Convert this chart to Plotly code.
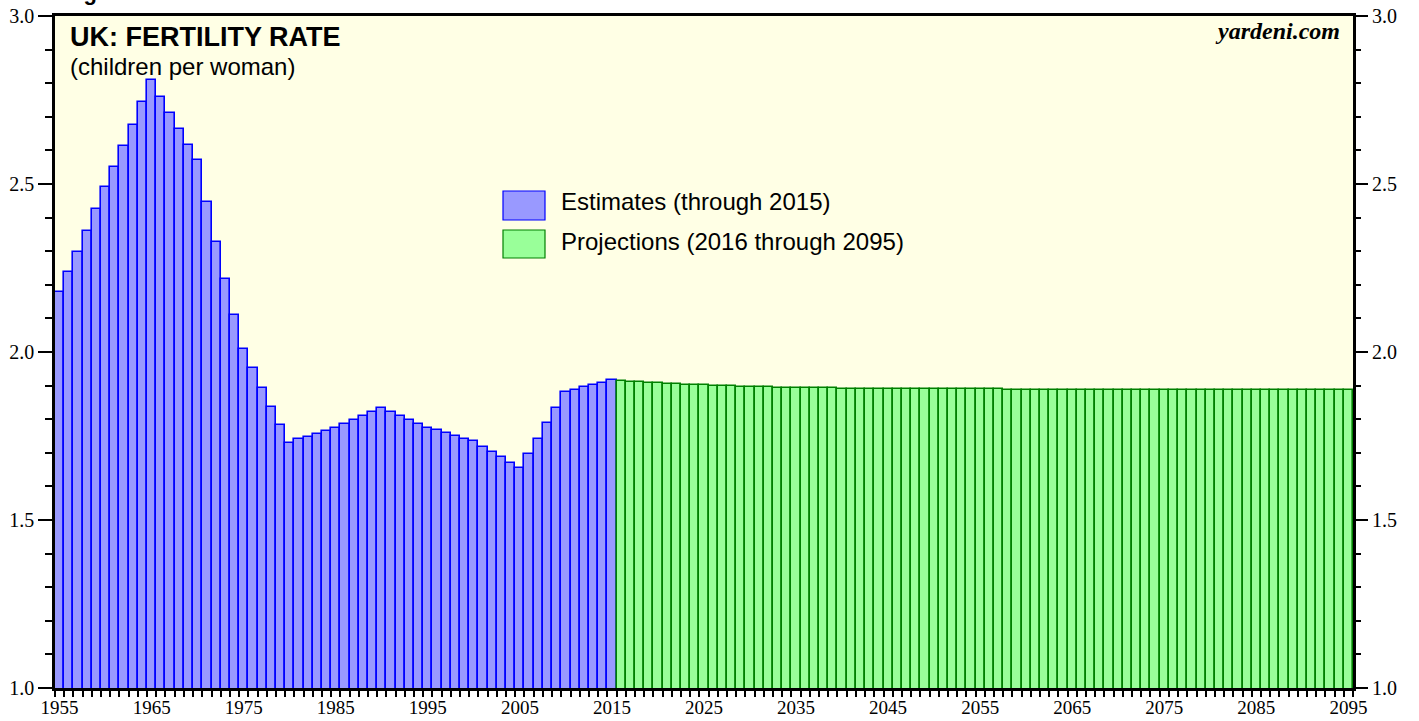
import plotly.graph_objects as go

# UK total fertility rate, children per woman
est_years = list(range(1955, 2016))
est_values = [
    2.179, 2.239, 2.299, 2.361, 2.425, 2.490, 2.551, 2.613, 2.677, 2.743,
    2.810, 2.760, 2.711, 2.663, 2.615, 2.570, 2.447, 2.328, 2.218, 2.110,
    2.010, 1.952, 1.892, 1.837, 1.783, 1.730, 1.740, 1.748, 1.757, 1.766,
    1.775, 1.787, 1.799, 1.810, 1.822, 1.834, 1.822, 1.810, 1.799, 1.787,
    1.775, 1.767, 1.759, 1.751, 1.742, 1.734, 1.718, 1.702, 1.687, 1.671,
    1.655, 1.697, 1.742, 1.788, 1.832, 1.881, 1.888, 1.895, 1.903, 1.909,
    1.916,
]

proj_years = list(range(2016, 2096))
proj_values = [
    1.914, 1.912, 1.910, 1.909, 1.907, 1.906, 1.904, 1.903, 1.902, 1.901,
    1.900, 1.899, 1.898, 1.897, 1.896, 1.895, 1.895, 1.894, 1.894, 1.893,
    1.893, 1.892, 1.892, 1.892, 1.891, 1.891, 1.891, 1.891, 1.890, 1.890,
    1.890, 1.890, 1.890, 1.890, 1.889, 1.889, 1.889, 1.889, 1.889, 1.889,
    1.889, 1.889, 1.888, 1.888, 1.888, 1.888, 1.888, 1.888, 1.888, 1.888,
    1.888, 1.888, 1.888, 1.888, 1.887, 1.887, 1.887, 1.887, 1.887, 1.887,
    1.887, 1.887, 1.887, 1.887, 1.887, 1.887, 1.887, 1.887, 1.887, 1.887,
    1.887, 1.887, 1.886, 1.886, 1.886, 1.886, 1.886, 1.886, 1.886, 1.886,
]

x_tick_years = list(range(1955, 2096, 10))
y_tick_vals = [1.0, 1.5, 2.0, 2.5, 3.0]
y_tick_text = ["1.0", "1.5", "2.0", "2.5", "3.0"]

legend_est = "Estimates (through 2015)"
legend_proj = "Projections (2016 through 2095)"

SANS = "Liberation Sans, Arial, Helvetica, sans-serif"
SERIF = "Liberation Serif, Times New Roman, serif"

EST_FILL, EST_LINE = "#9999FF", "#0000FF"
PROJ_FILL, PROJ_LINE = "#99FF99", "#008000"

fig = go.Figure()
fig.add_trace(go.Bar(
    x=est_years, y=est_values, width=1.0,
    marker=dict(color=EST_FILL, line=dict(color=EST_LINE, width=1.6)),
    name=legend_est, showlegend=False,
))
fig.add_trace(go.Bar(
    x=proj_years, y=proj_values, width=1.0,
    marker=dict(color=PROJ_FILL, line=dict(color=PROJ_LINE, width=1.6)),
    name=legend_proj, showlegend=False,
))
# invisible trace to carry the right-hand axis
fig.add_trace(go.Scatter(x=[1955], y=[1.0], yaxis="y2", mode="markers",
                         marker=dict(opacity=0), showlegend=False, hoverinfo="skip"))

yaxis_common = dict(
    range=[1.0, 3.0], tickvals=y_tick_vals, ticktext=y_tick_text,
    ticks="outside", ticklen=14, tickwidth=1.5, tickcolor="black",
    tickfont=dict(family=SERIF, size=20, color="black"),
    minor=dict(dtick=0.1, tick0=1.0, ticks="outside", ticklen=7,
               tickwidth=1.5, tickcolor="black"),
    showgrid=False, zeroline=False, fixedrange=True, automargin=False,
)

fig.update_layout(
    width=1419, height=721,
    margin=dict(l=55, r=66, t=16, b=33, autoexpand=False),
    paper_bgcolor="white",
    plot_bgcolor="#FFFFE5",
    bargap=0,
    barmode="overlay",
    xaxis=dict(
        range=[1954.5, 2095.5], tickvals=x_tick_years,
        ticks="", ticklen=0, ticklabelstandoff=0,
        tickfont=dict(family=SERIF, size=19, color="black"),
        minor=dict(dtick=1, tick0=1954.5, ticks="outside", ticklen=6,
                   tickwidth=2, tickcolor="black"),
        showline=True, linecolor="black", linewidth=2.5, mirror=True,
        showgrid=False, zeroline=False, fixedrange=True, automargin=False,
    ),
    yaxis=dict(side="left", showline=True, linecolor="black", linewidth=2.5,
               mirror=True, **yaxis_common),
    yaxis2=dict(side="right", overlaying="y", showline=False, **yaxis_common),
    font=dict(family=SANS, color="black"),
)

px_w, px_h = 1298, 672


def px_x(px):
    return (px - 55) / px_w


def px_y(py):
    return (688 - py) / px_h


# legend swatches
fig.add_shape(type="rect", xref="paper", yref="paper",
              x0=px_x(503), x1=px_x(545), y0=px_y(220), y1=px_y(191),
              fillcolor=EST_FILL, line=dict(color=EST_LINE, width=1.2))
fig.add_shape(type="rect", xref="paper", yref="paper",
              x0=px_x(503), x1=px_x(545), y0=px_y(258), y1=px_y(230),
              fillcolor=PROJ_FILL, line=dict(color=PROJ_LINE, width=1.2))

annotations = [
    dict(text="<b>UK: FERTILITY RATE</b>", x=px_x(68), y=px_y(37),
         xanchor="left", yanchor="middle", font=dict(family=SANS, size=27)),
    dict(text="(children per woman)", x=px_x(68), y=px_y(67),
         xanchor="left", yanchor="middle", font=dict(family=SANS, size=24)),
    dict(text="<b><i>yardeni.com</i></b>", x=px_x(1342), y=px_y(31),
         xanchor="right", yanchor="middle", font=dict(family=SERIF, size=24)),
    dict(text=legend_est, x=px_x(559), y=px_y(201), xanchor="left",
         yanchor="middle", font=dict(family=SANS, size=24)),
    dict(text=legend_proj, x=px_x(559), y=px_y(241), xanchor="left",
         yanchor="middle", font=dict(family=SANS, size=24)),
    dict(text="<b>Figure 3.</b>", x=px_x(62), y=px_y(7), xanchor="left",
         yanchor="bottom", font=dict(family=SANS, size=22)),
]
for a in annotations:
    fig.add_annotation(xref="paper", yref="paper", showarrow=False, **a)

fig.write_html("out.html")
